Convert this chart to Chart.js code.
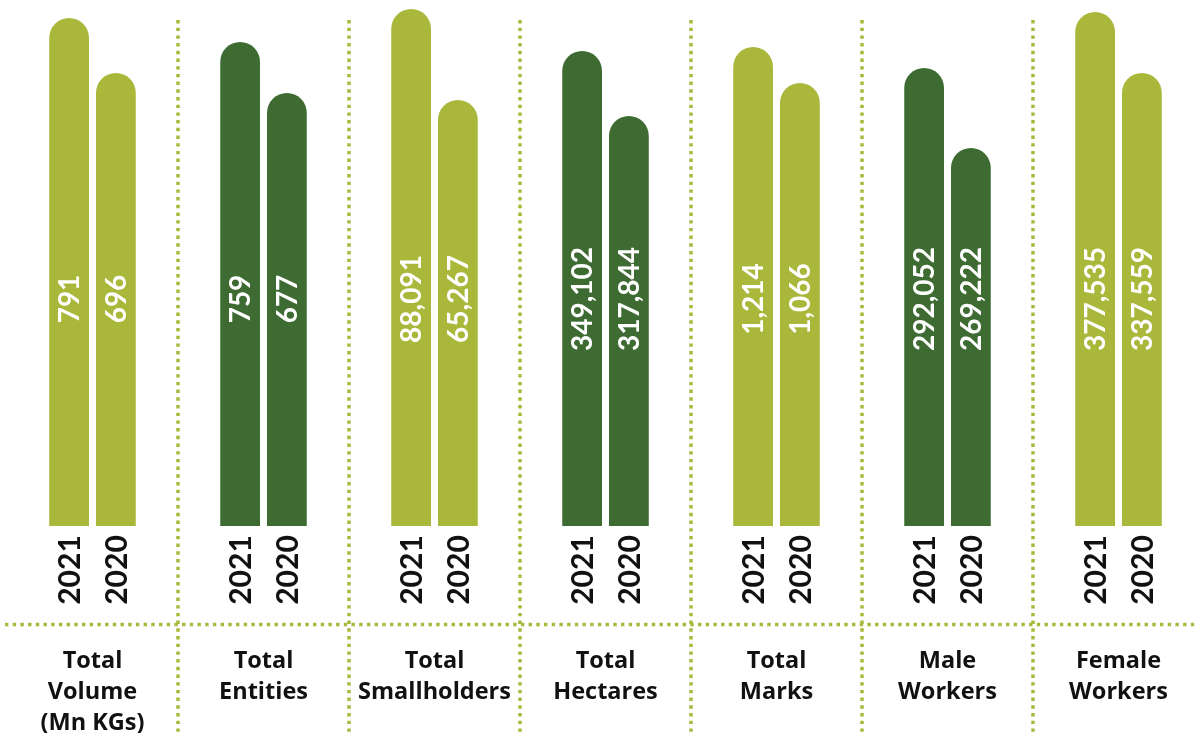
<!DOCTYPE html>
<html>
<head>
<meta charset="utf-8">
<script src="https://cdn.jsdelivr.net/npm/chart.js@4.4.1/dist/chart.umd.min.js"></script>
<style>
  html, body { margin: 0; padding: 0; background: #fff; overflow: hidden; }
  #wrap { width: 1204px; height: 733px; position: relative; }
</style>
</head>
<body>
<div id="wrap"><canvas id="chart"></canvas></div>
<script>
// categories (multi-line labels)
const categories = [
  ["Total", "Volume", "(Mn KGs)"],
  ["Total", "Entities"],
  ["Total", "Smallholders"],
  ["Total", "Hectares"],
  ["Total", "Marks"],
  ["Male", "Workers"],
  ["Female", "Workers"]
];
const years = ["2021", "2020"];

// printed values
const values2021 = ["791", "759", "88,091", "349,102", "1,214", "292,052", "377,535"];
const values2020 = ["696", "677", "65,267", "317,844", "1,066", "269,222", "337,559"];

// bar heights as drawn in the picture (not to a common scale)
const heights2021 = [508, 484, 517, 475, 479, 458, 514];
const heights2020 = [453, 433, 426, 410, 443, 378, 453];

const LIGHT = "#a9b83b";
const DARK = "#3d6b31";
const groupColors = categories.map((c, i) => (i % 2 === 0 ? LIGHT : DARK));
const FONT = "Lato, 'Open Sans', sans-serif";
const LABEL_FONT = "'Open Sans', Lato, sans-serif";

const decorPlugin = {
  id: "decor",
  beforeDatasetsDraw(chart) {
    const ctx = chart.ctx;
    const x = chart.scales.x;
    ctx.save();
    ctx.strokeStyle = LIGHT;
    ctx.lineWidth = 3.5;
    ctx.setLineDash([3.4, 4.3]);
    // vertical separators between groups
    for (let i = 0; i < categories.length - 1; i++) {
      const sx = (x.getPixelForValue(i) + x.getPixelForValue(i + 1)) / 2;
      ctx.beginPath();
      ctx.moveTo(sx, 20);
      ctx.lineTo(sx, chart.height);
      ctx.stroke();
    }
    // horizontal separator above the category names
    ctx.beginPath();
    ctx.moveTo(5, 624.5);
    ctx.lineTo(chart.width, 624.5);
    ctx.stroke();
    ctx.restore();
  },
  afterDatasetsDraw(chart) {
    const ctx = chart.ctx;
    const x = chart.scales.x;
    ctx.save();
    const valueSets = [values2021, values2020];
    chart.data.datasets.forEach((ds, d) => {
      chart.getDatasetMeta(d).data.forEach((bar, i) => {
        // value inside the bar
        ctx.save();
        ctx.translate(bar.x, 299);
        ctx.rotate(-Math.PI / 2);
        ctx.fillStyle = "#ffffff";
        ctx.font = "bold 28px " + FONT;
        ctx.textAlign = "center";
        ctx.textBaseline = "middle";
        ctx.fillText(valueSets[d][i], 0, 1);
        ctx.restore();
        // year under the bar
        ctx.save();
        ctx.translate(bar.x, 570);
        ctx.rotate(-Math.PI / 2);
        ctx.fillStyle = "#111111";
        ctx.font = "bold 30px " + FONT;
        ctx.textAlign = "center";
        ctx.textBaseline = "middle";
        ctx.fillText(years[d], 0, 1);
        ctx.restore();
      });
    });
    // category names
    ctx.fillStyle = "#111111";
    ctx.font = "bold 23.5px " + LABEL_FONT;
    ctx.textAlign = "center";
    ctx.textBaseline = "alphabetic";
    categories.forEach((lines, i) => {
      const cx = x.getPixelForValue(i);
      lines.forEach((line, k) => {
        ctx.fillText(line, cx, 668 + k * 31);
      });
    });
    ctx.restore();
  }
};

new Chart(document.getElementById("chart"), {
  type: "bar",
  data: {
    labels: categories.map(c => c.join(" ")),
    datasets: [
      { label: years[0], data: heights2021, backgroundColor: groupColors },
      { label: years[1], data: heights2020, backgroundColor: groupColors }
    ]
  },
  options: {
    responsive: true,
    maintainAspectRatio: false,
    animation: false,
    layout: { padding: { left: 7, right: 0, top: 0, bottom: 207 } },
    datasets: {
      bar: {
        categoryPercentage: 0.547,
        barPercentage: 0.85,
        borderRadius: { topLeft: 20, topRight: 20, bottomLeft: 0, bottomRight: 0 },
        borderSkipped: "start"
      }
    },
    scales: {
      x: { display: false },
      y: { display: false, min: 0, max: 526 }
    },
    plugins: {
      legend: { display: false },
      tooltip: { enabled: false }
    }
  },
  plugins: [decorPlugin]
});
</script>
</body>
</html>
